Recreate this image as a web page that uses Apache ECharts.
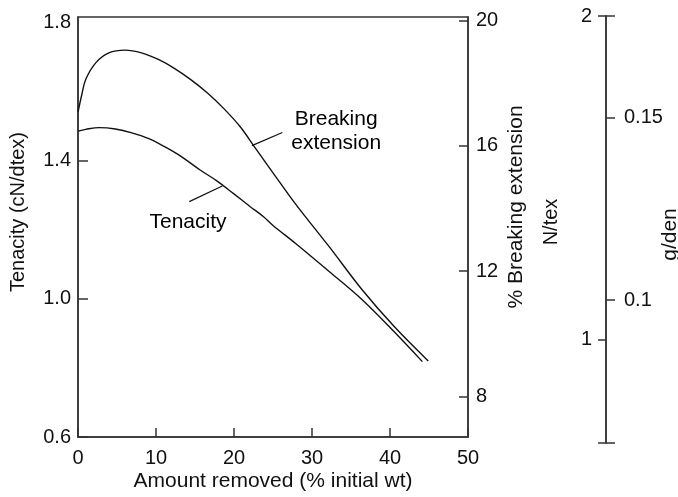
<!DOCTYPE html>
<html><head><meta charset="utf-8">
<script src="https://cdn.jsdelivr.net/npm/echarts@6/dist/echarts.min.js"></script>
<style>html,body{margin:0;padding:0;background:#fff}#c{width:678px;height:497px}</style>
</head><body><div id="c"></div>
<script>
// ---- data ----
const xTicks = [0, 10, 20, 30, 40, 50];
const tenacityLabels = [0.6, 1.0, 1.4, 1.8];
const tenacityTickVals = [0.6, 1.0, 1.4];
const extensionTicks = [8, 12, 16, 20];
const ntexTicks = [1, 2];
const gdenTicks = [0.1, 0.15];

// Tenacity (cN/dtex) vs amount removed (%)
const amountTen = [0, 1.0, 2.7, 4.8, 6.9, 9.0, 11.1, 13.2, 15.75, 17.8, 19.95, 22.05, 23.75, 25.0, 27.9, 32.2, 36.4, 40.6, 44.15];
const tenacity  = [1.485, 1.490, 1.495, 1.491, 1.480, 1.464, 1.440, 1.412, 1.371, 1.341, 1.304, 1.267, 1.238, 1.212, 1.160, 1.079, 0.998, 0.903, 0.818];

// % Breaking extension vs amount removed (%)
const amountExt   = [0, 0.5, 1.0, 2.3, 3.95, 6.05, 8.15, 10.3, 12.4, 14.5, 16.6, 18.7, 20.8, 22.9, 25.0, 27.9, 32.2, 36.4, 40.6, 44.9];
const breakingExt = [17.08, 17.65, 18.13, 18.66, 18.97, 19.06, 18.97, 18.76, 18.47, 18.11, 17.69, 17.19, 16.61, 15.87, 15.14, 14.14, 12.78, 11.41, 10.21, 9.13];

// annotation labels (in data units of amount / tenacity axis)
const annotations = [
  {text: 'Breaking\nextension', at: [33.1, 1.486], pointer: [[22.3, 1.443], [26.2, 1.481]]},
  {text: 'Tenacity', at: [14.1, 1.222], pointer: [[14.27, 1.281], [18.5, 1.326]]}
];

// ---- chart ----
const FONT = '"Liberation Sans", Arial, Helvetica, sans-serif';
const txt = {fontFamily: FONT, fontSize: 20, color: '#111'};
const big = {fontFamily: FONT, fontSize: 21, color: '#111'};
const axLine = {color: '#333', width: 1.5};
const zip = (a, b) => a.map((v, i) => [v, b[i]]);

const chart = echarts.init(document.getElementById('c'), null, {renderer: 'canvas'});

const series = [
  {type: 'line', name: 'Tenacity', xAxisIndex: 0, yAxisIndex: 0, data: zip(amountTen, tenacity),
   smooth: 0.35, showSymbol: false, symbol: 'none', lineStyle: {color: '#111', width: 1.4}, silent: true},
  {type: 'line', name: 'Breaking extension', xAxisIndex: 0, yAxisIndex: 1, data: zip(amountExt, breakingExt),
   smooth: 0.35, showSymbol: false, symbol: 'none', lineStyle: {color: '#111', width: 1.4}, silent: true}
];
annotations.forEach(a => {
  series.push({type: 'line', xAxisIndex: 0, yAxisIndex: 0, data: a.pointer, symbol: 'none',
    lineStyle: {color: '#111', width: 1.2}, silent: true});
  series.push({type: 'scatter', xAxisIndex: 0, yAxisIndex: 0, data: [{value: a.at, name: a.text}],
    symbolSize: 0, silent: true, itemStyle: {color: '#000', opacity: 1},
    label: {show: true, position: [0, 0], align: 'center', verticalAlign: 'middle', opacity: 1,
      formatter: p => p.name, ...big, color: '#000', lineHeight: 24, textBorderWidth: 0}});
});

chart.setOption({
  animation: false,
  backgroundColor: '#fff',
  grid: [
    {left: 72, right: 210, top: 17, bottom: 54, show: true, borderColor: '#333', borderWidth: 1.5},
    {left: 606, width: 0, top: 16, bottom: 54}
  ],
  xAxis: [
    {gridIndex: 0, type: 'value', min: 0, max: 50, interval: 10,
     axisLine: {show: true, lineStyle: axLine},
     axisTick: {show: true, inside: true, length: 9, lineStyle: axLine, customValues: xTicks},
     axisLabel: {...txt, margin: 11, customValues: xTicks},
     splitLine: {show: false},
     name: 'Amount removed (% initial wt)', nameLocation: 'middle', nameGap: 34, nameMoveOverlap: false,
     nameTextStyle: {...big}},
    {gridIndex: 1, type: 'value', min: 0, max: 1, show: false}
  ],
  yAxis: [
    {gridIndex: 0, type: 'value', position: 'left', min: 0.6, max: 1.815,
     axisLine: {show: true, lineStyle: axLine},
     axisTick: {show: true, inside: true, length: 10, lineStyle: axLine, customValues: tenacityTickVals},
     axisLabel: {...txt, margin: 7, customValues: tenacityLabels, formatter: v => Number(v).toFixed(1)},
     splitLine: {show: false},
     name: 'Tenacity (cN/dtex)', nameLocation: 'middle', nameGap: 50, nameRotate: 90, nameMoveOverlap: false,
     nameTextStyle: {...txt, padding: [0, 0, 0, 30]}},
    {gridIndex: 0, type: 'value', position: 'right', min: 6.699, max: 20.117,
     axisLine: {show: true, lineStyle: axLine},
     axisTick: {show: true, inside: true, length: 9, lineStyle: axLine, customValues: extensionTicks},
     axisLabel: {...txt, margin: 8, customValues: extensionTicks},
     splitLine: {show: false},
     name: '% Breaking extension', nameLocation: 'middle', nameGap: 38, nameRotate: 90, nameMoveOverlap: false,
     nameTextStyle: {...big, padding: [0, 0, 0, 40]}},
    {gridIndex: 1, type: 'value', position: 'left', min: 0.68, max: 2,
     axisLine: {show: true, lineStyle: axLine},
     axisTick: {show: true, length: 8, lineStyle: axLine, customValues: [0.68].concat(ntexTicks)},
     axisLabel: {...txt, margin: 14, customValues: ntexTicks},
     splitLine: {show: false},
     name: 'N/tex', nameLocation: 'middle', nameGap: 45, nameRotate: 90, nameMoveOverlap: false,
     nameTextStyle: {...txt, padding: [0, 0, 0, 15]}},
    {gridIndex: 1, type: 'value', position: 'right', min: 0.0609, max: 0.1778,
     axisLine: {show: true, lineStyle: axLine},
     axisTick: {show: true, length: 9, lineStyle: axLine, customValues: [0.0609].concat(gdenTicks, [0.1778])},
     axisLabel: {...txt, margin: 18, customValues: gdenTicks},
     splitLine: {show: false},
     name: 'g/den', nameLocation: 'middle', nameGap: 54, nameRotate: 90, nameMoveOverlap: false,
     nameTextStyle: {...big, padding: [0, 10, 0, 0]}}
  ],
  series: series
});
</script></body></html>
